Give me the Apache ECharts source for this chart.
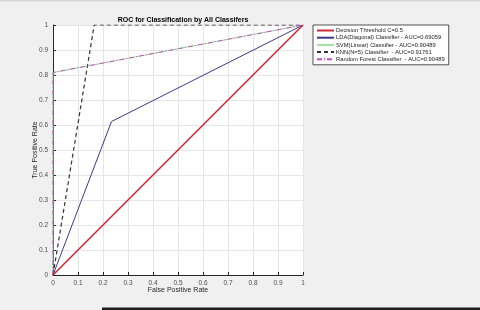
<!DOCTYPE html>
<html><head><meta charset="utf-8">
<script src="https://cdn.jsdelivr.net/npm/echarts@6/dist/echarts.min.js"></script>
<style>html,body{margin:0;padding:0;background:#f0f0f0;}#c{width:480px;height:310px;}</style>
</head><body><div id="c"></div>
<script>
const title = 'ROC for Classification by All Classifers';
const xLabel = 'False Positive Rate';
const yLabel = 'True Positive Rate';
const seriesNames = ['Decision Threshold C=0.5','LDA(Diagonal) Classifier - AUC=0.69059','SVM(Linear) Classifier - AUC=0.90489','KNN(N=5) Classifier  - AUC=0.91761','Random Forest Classifier  - AUC=0.90489'];
const threshold = [[0,0],[1,1]];
const lda = [[0,0],[0.234,0.614],[1,1]];
const svm = [[0,0],[0,0.8098],[1,1]];
const knn = [[0,0],[0.1648,1],[1,1]];
const rf = [[0,0],[0,0.8098],[1,1]];

const chart = echarts.init(document.getElementById('c'), null, {renderer:'canvas'});
const fmt = v => (v===0||v===1) ? String(v) : v.toFixed(1);
const axisCommon = {
  min:0, max:1, interval:0.1,
  axisLine:{show:true, lineStyle:{color:'#262626', width:1}},
  axisTick:{show:true, inside:true, length:3, lineStyle:{color:'#262626'}},
  splitLine:{show:true, lineStyle:{color:'#e6e6e6', width:1}},
  axisLabel:{fontSize:6.5, color:'#4d4d4d', fontFamily:'Liberation Sans, Arial', formatter:fmt, margin:5},
  nameTextStyle:{fontSize:7, color:'#262626', fontFamily:'Liberation Sans, Arial'},
  nameLocation:'middle',
  nameMoveOverlap:false
};
chart.setOption({
  backgroundColor:'#f0f0f0',
  animation:false,
  title:{text:title, left:178, top:12, textAlign:'center',
    textStyle:{fontSize:7, fontWeight:'bold', color:'#000', fontFamily:'Liberation Sans, Arial'}},
  grid:{left:53, top:25, width:250, height:250, show:true, backgroundColor:'#ffffff', borderWidth:0},
  xAxis:Object.assign({type:'value', name:xLabel, nameGap:12}, axisCommon),
  yAxis:Object.assign({type:'value', name:yLabel, nameGap:14}, axisCommon),
  legend:{
    orient:'vertical', left:313, top:25, itemWidth:17, itemHeight:6, itemGap:1.2,
    padding:[2.5,4,2.5,3], backgroundColor:'#ffffff', borderColor:'#262626', borderWidth:0.8, borderRadius:0,
    itemStyle:{opacity:0},
    textStyle:{fontSize:5.8, color:'#222', fontFamily:'Liberation Sans, Arial', padding:[0,0,0,-3]},
    data:seriesNames
  },
  graphic:[
    {type:'rect', shape:{x:0,y:0,width:480,height:1.5}, style:{fill:'#d4d4d4'}, z:100},
    {type:'rect', shape:{x:102,y:307.5,width:378,height:3}, style:{fill:'#1e1e1e'}, z:100}
  ],
  series:[
    {name:seriesNames[0], type:'line', data:threshold, symbol:'none', z:5,
     lineStyle:{color:'#cc2a36', width:1.6}, itemStyle:{color:'#cc2a36'}},
    {name:seriesNames[1], type:'line', data:lda, symbol:'none', z:4,
     lineStyle:{color:'#3b3b8f', width:1}, itemStyle:{color:'#3b3b8f'}},
    {name:seriesNames[2], type:'line', data:svm, symbol:'none', z:3,
     lineStyle:{color:'#9ee39e', width:1}, itemStyle:{color:'#9ee39e'}},
    {name:seriesNames[3], type:'line', data:knn, symbol:'none', z:4,
     lineStyle:{color:'#333333', width:1.2, type:[4,3]}, itemStyle:{color:'#333333'}},
    {name:seriesNames[4], type:'line', data:rf, symbol:'none', z:4,
     lineStyle:{color:'#c24fc2', width:1, type:[5,2,1,2]}, itemStyle:{color:'#c24fc2'}}
  ]
});
</script></body></html>
